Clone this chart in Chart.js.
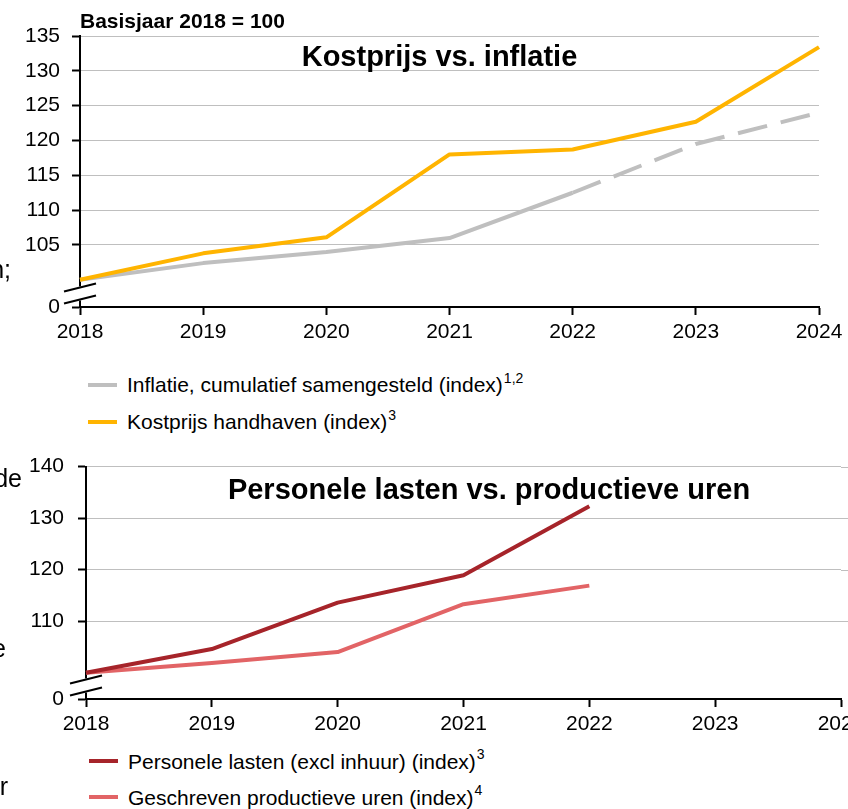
<!DOCTYPE html>
<html><head><meta charset="utf-8">
<script src="https://cdn.jsdelivr.net/npm/chart.js@4.4.1/dist/chart.umd.min.js"></script>
<style>
html,body{margin:0;padding:0;background:#fff;overflow:hidden;}
#wrap{position:relative;width:848px;height:809px;overflow:hidden;font-family:'Liberation Sans',Arial,Helvetica,sans-serif;color:#000;}
canvas{position:absolute;left:0;}
.t{position:absolute;white-space:nowrap;line-height:1;}
.title{font-weight:bold;font-size:29px;transform:translateX(-50%);}
.clip{font-size:25px;text-align:right;}
.legend{position:absolute;font-size:21px;}
.lg{display:flex;align-items:center;line-height:1;white-space:nowrap;}
.mk{display:inline-block;width:29px;height:4px;margin-right:10px;}
.lg sup{font-size:14px;vertical-align:0;position:relative;top:-7px;margin-left:1px;}
</style></head><body>
<div id="wrap">
<canvas id="c1" width="848" height="350" style="top:0px;width:848px;height:350px"></canvas>
<canvas id="c2" width="900" height="300" style="top:440px;width:900px;height:300px"></canvas>
<div class="t" style="left:80px;top:9.5px;font-size:21px;font-weight:bold;">Basisjaar 2018 = 100</div>
<div class="t title" style="left:439.5px;top:41.5px;">Kostprijs vs. inflatie</div>
<div class="t title" style="left:489px;top:474.8px;">Personele lasten vs. productieve uren</div>
<div class="t clip" style="right:837px;top:257px;">n;</div>
<div class="t clip" style="right:826px;top:466px;">de</div>
<div class="t clip" style="right:842px;top:636px;">e</div>
<div class="t clip" style="right:840px;top:774px;">r</div>
<div id="lg1" class="legend" style="left:88px;top:366px;"></div>
<div id="lg2" class="legend" style="left:89px;top:743px;"></div>
</div>
<script>
// ---- data ----
const years = ['2018','2019','2020','2021','2022','2023','2024'];
const inflatie = [100, 102.4, 104.0, 106.0, 112.5, 119.5, 124.0];
const kostprijs = [100, 103.8, 106.1, 118.0, 118.7, 122.7, 133.4];
const personeleLasten = [100, 104.6, 113.6, 118.9, 132.3, null, null];
const productieveUren = [100, 101.9, 104.0, 113.3, 116.9, null, null];
const topTickValues = [105, 110, 115, 120, 125, 130, 135];
const bottomTickValues = [110, 120, 130, 140];
const inflatieProjectionFrom = '2022';

const FONT = "'Liberation Sans', Arial, Helvetica, sans-serif";
Chart.defaults.font.family = FONT;
Chart.defaults.color = '#000';

const axisBreak = {
  id: 'axisBreak',
  afterDraw(chart) {
    const {ctx, chartArea: a} = chart;
    const x = a.left;
    const c1 = a.bottom - 19.5, c2 = a.bottom - 7.5;
    ctx.save();
    ctx.fillStyle = '#fff';
    ctx.fillRect(x - 3, c1 - 1, 6, c2 - c1 + 2);
    ctx.strokeStyle = '#000';
    ctx.lineWidth = 2;
    [c1, c2].forEach(c => {
      ctx.beginPath();
      ctx.moveTo(x - 16, c + 4);
      ctx.lineTo(x + 16, c - 4);
      ctx.stroke();
    });
    ctx.restore();
  }
};

// extends the horizontal grid lines of the lower chart to the edge of the canvas
const gridExtend = {
  id: 'gridExtend',
  beforeDatasetsDraw(chart) {
    const {ctx, chartArea: a, scales: {y}} = chart;
    ctx.save();
    ctx.strokeStyle = '#BFBFBF';
    ctx.lineWidth = 1;
    y.ticks.forEach(t => {
      if (t.value <= y.min) return;
      const py = Math.round(y.getPixelForValue(t.value)) + 0.5;
      ctx.beginPath();
      ctx.moveTo(a.right, py);
      ctx.lineTo(chart.width, py);
      ctx.stroke();
    });
    ctx.restore();
  }
};

function yScale(min, max, tickVals, width, pad) {
  return {
    type: 'linear', min, max,
    afterBuildTicks: s => { s.ticks = [min, ...tickVals].map(v => ({value: v})); },
    afterFit: s => { s.width = width; },
    ticks: {
      callback: v => (v === min ? '0' : String(v)),
      font: {size: 21, family: FONT}, color: '#000', padding: pad, autoSkip: false
    },
    grid: {
      color: c => (c.tick && c.tick.value === min) ? 'rgba(0,0,0,0)' : '#BFBFBF',
      lineWidth: 1, tickLength: 8, tickColor: '#000', tickWidth: 2
    },
    border: {color: '#000', width: 2}
  };
}
function xScale(height) {
  return {
    type: 'category',
    afterFit: s => { s.height = height; },
    ticks: {font: {size: 21, family: FONT}, color: '#000', padding: 5, maxRotation: 0, autoSkip: false},
    grid: {drawOnChartArea: false, tickLength: 8, tickColor: '#000', tickWidth: 2},
    border: {color: '#000', width: 2}
  };
}
function baseOptions(pad, yS, xS) {
  return {
    responsive: false, animation: false, devicePixelRatio: 1,
    layout: {padding: pad},
    plugins: {legend: {display: false}, tooltip: {enabled: false}, title: {display: false}},
    elements: {point: {radius: 0}, line: {tension: 0, borderCapStyle: 'butt', borderJoinStyle: 'round'}},
    scales: {x: xS, y: yS}
  };
}

const projIdx = years.indexOf(inflatieProjectionFrom);
const topDatasets = [
  {label: 'Inflatie, cumulatief samengesteld (index)', note: '1,2', data: inflatie,
   borderColor: '#BFBFBF', backgroundColor: '#BFBFBF', borderWidth: 4, order: 2, fill: false,
   segment: {borderDash: ctx => ctx.p0DataIndex >= projIdx ? [30, 14] : undefined}},
  {label: 'Kostprijs handhaven (index)', note: '3', data: kostprijs,
   borderColor: '#FFB400', backgroundColor: '#FFB400', borderWidth: 4, order: 1, fill: false}
];
const bottomDatasets = [
  {label: 'Personele lasten (excl inhuur) (index)', note: '3', data: personeleLasten,
   borderColor: '#A6242A', backgroundColor: '#A6242A', borderWidth: 4, order: 1, fill: false},
  {label: 'Geschreven productieve uren (index)', note: '4', data: productieveUren,
   borderColor: '#E26466', backgroundColor: '#E26466', borderWidth: 4, order: 2, fill: false}
];

const chart1 = new Chart(document.getElementById('c1'), {
  type: 'line',
  data: {labels: years, datasets: topDatasets},
  options: baseOptions({top: 36, right: 29, left: 0, bottom: 0},
    yScale(96.1, 135, topTickValues, 80, 12), xScale(43)),
  plugins: [axisBreak]
});
const chart2 = new Chart(document.getElementById('c2'), {
  type: 'line',
  data: {labels: years, datasets: bottomDatasets},
  options: baseOptions({top: 23, right: 59, left: 0, bottom: 0},
    yScale(94.9, 140, bottomTickValues, 86, 14), xScale(41)),
  plugins: [axisBreak, gridExtend]
});

function buildLegend(el, chart, rowH) {
  chart.data.datasets.forEach(ds => {
    const row = document.createElement('div');
    row.className = 'lg';
    row.style.height = rowH + 'px';
    const m = document.createElement('span');
    m.className = 'mk';
    m.style.background = ds.borderColor;
    row.appendChild(m);
    const tx = document.createElement('span');
    tx.textContent = ds.label;
    row.appendChild(tx);
    if (ds.note) {
      const s = document.createElement('sup');
      s.textContent = ds.note;
      row.appendChild(s);
    }
    el.appendChild(row);
  });
}
buildLegend(document.getElementById('lg1'), chart1, 37);
buildLegend(document.getElementById('lg2'), chart2, 36);
</script>
</body></html>
